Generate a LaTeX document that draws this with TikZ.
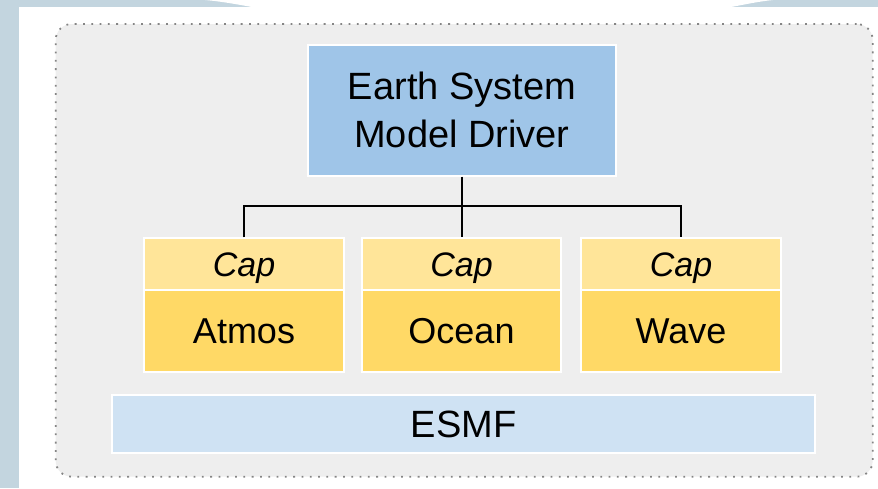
\documentclass[tikz,border=0pt]{standalone}
\usepackage{fontspec}
\setmainfont{Liberation Sans}
\definecolor{bgblue}{HTML}{C3D5DF}
\definecolor{panelc}{HTML}{EEEEEE}
\definecolor{drvc}{HTML}{9FC5E8}
\definecolor{capc}{HTML}{FFE599}
\definecolor{modc}{HTML}{FFD966}
\definecolor{esmfc}{HTML}{CFE2F3}
\definecolor{dotc}{HTML}{858585}
\tikzset{
  cell/.style={draw=white, line width=1.5pt, inner sep=0pt, text depth=0pt},
  drvbox/.style={cell, fill=drvc, align=center, font=\fontsize{38pt}{48pt}\selectfont, text height=75.2pt},
  capbox/.style={cell, fill=capc, font=\fontsize{34pt}{40pt}\selectfont\itshape, text height=24.3pt, minimum width=200pt, minimum height=52pt},
  modbox/.style={cell, fill=modc, font=\fontsize{36pt}{43pt}\selectfont, text height=25.8pt, minimum width=200pt, minimum height=82pt},
  esmfbox/.style={cell, fill=esmfc, font=\fontsize{38pt}{46pt}\selectfont, text height=27.2pt},
  conn/.style={draw=black, line width=1.6pt},
  panelbox/.style={draw=dotc, fill=panelc, line width=1.8pt, dash pattern=on 1.8pt off 6.5pt, rounded corners=16pt, inner sep=0pt}
}
\begin{document}
\begin{tikzpicture}[x=1pt,y=-1pt]
\useasboundingbox (0,0) rectangle (878,488);
% background
\fill[bgblue] (0,0) rectangle (878,488);
\fill[white] (19,7) rectangle (878,488);
\fill[white] (205,0) .. controls (222,1.5) and (238,4.5) .. (253,7.2) -- (730,7.2) .. controls (745,4.5) and (758,1.5) .. (773,0) -- cycle;
% panel
\node[panelbox, minimum width=817pt, minimum height=452.7pt] (panel) at (464.2,250.35) {};
% driver
\node[drvbox, minimum width=308pt, minimum height=131pt] (drv) at (462,110.3) {Earth System\\Model Driver};
% caps and models
\node[capbox] (capA) at (244,264) {Cap};
\node[modbox] (modA) at (244,331) {Atmos};
\node[capbox, minimum width=199pt] (capO) at (461.5,264) {Cap};
\node[modbox, minimum width=199pt] (modO) at (461.5,331) {Ocean};
\node[capbox] (capW) at (681,264) {Cap};
\node[modbox] (modW) at (681,331) {Wave};
% ESMF
\node[esmfbox, minimum width=703pt, minimum height=58pt] (esmf) at (463.5,424) {ESMF};
% connectors
\draw[conn] (drv.south) -- (drv.south |- capO.north);
\draw[conn] (capA.north) -- ++(0,-31) -| (capW.north);
\end{tikzpicture}
\end{document}
